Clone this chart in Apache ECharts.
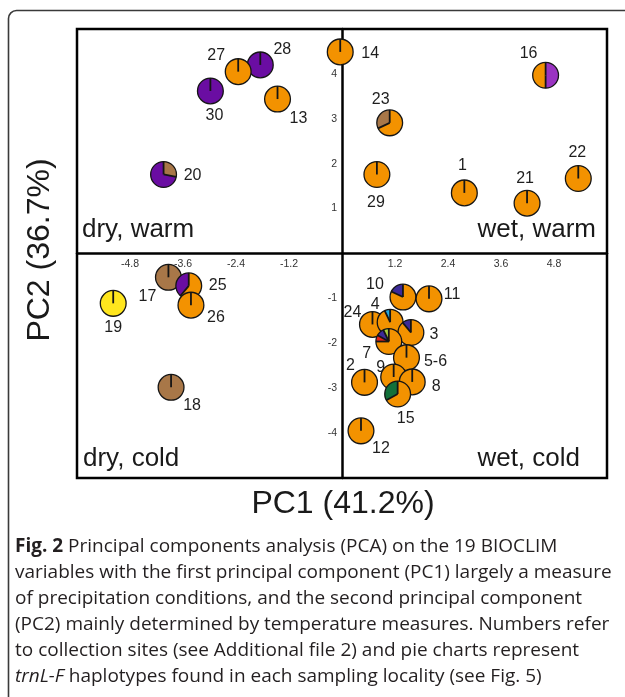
<!DOCTYPE html>
<html><head><meta charset="utf-8">
<script src="https://cdn.jsdelivr.net/npm/echarts@6/dist/echarts.min.js"></script>
<style>html,body{margin:0;padding:0;background:#fff}#c{width:625px;height:697px}</style>
</head><body><div id="c"></div>
<script>
// ---- data (draw order: later entries sit on top) ----
const siteLabels = ['30','28','27','13','14','20','16','23','29','1','21','22',
  '17','25','26','19','18','10','11','24','4','3','7','5-6','2','9','8','15','12'];
const pc1 = [-2.98,-1.85,-2.35,-1.46,-0.04,-4.04,4.61,1.08,0.79,2.77,4.19,5.35,
  -3.93,-3.47,-3.42,-5.18,-3.87,1.38,1.97,0.69,1.09,1.56,1.06,1.46,0.51,1.17,1.59,1.26,0.43];
const pc2 = [3.62,4.20,4.05,3.44,4.49,1.76,3.97,2.91,1.76,1.35,1.12,1.67,
  -0.53,-0.72,-1.15,-1.11,-2.98,-0.97,-1.01,-1.58,-1.53,-1.76,-1.96,-2.32,-2.87,-2.75,-2.86,-3.13,-3.95];
// haplotype composition per site, slices clockwise from 12 o'clock
const haplotypeMix = [
  [['purple',1]], [['purple',1]], [['orange',1]], [['orange',1]], [['orange',1]],
  [['brown',0.28],['purple',0.72]],
  [['violet',0.5],['orange',0.5]],
  [['orange',0.68],['brown',0.32]],
  [['orange',1]], [['orange',1]], [['orange',1]], [['orange',1]],
  [['brown',1]],
  [['orange',0.61],['purple',0.39]],
  [['orange',1]], [['yellow',1]], [['brown',1]],
  [['orange',0.82],['indigo',0.18]],
  [['orange',1]], [['orange',1]],
  [['orange',0.93],['cyan',0.07]],
  [['orange',0.89],['indigo',0.11]],
  [['orange',0.75],['red',0.08],['indigo',0.10],['lime',0.07]],
  [['orange',1]], [['orange',1]], [['orange',1]], [['orange',1]],
  [['orange',0.67],['green',0.33]],
  [['orange',1]]
];
const xTickLabels = ['-4.8','-3.6','-2.4','-1.2','1.2','2.4','3.6','4.8'];
const yTickLabels = ['-4','-3','-2','-1','1','2','3','4'];

// ---- styles / layout ----
const hapColors = {orange:'#F39200', purple:'#6A0DA2', brown:'#A87748', violet:'#9A33C2',
  yellow:'#FFE61E', indigo:'#3C2A98', cyan:'#22A8DE', lime:'#A8CF3D', red:'#E2231A', green:'#12703A'};
const labelOffsets = {
  '30':[4,25],'27':[-22,-16],'28':[22,-15],'13':[21,20],'14':[30,2],'20':[29,1],
  '16':[-17,-22],'23':[-9,-23],'29':[-1,28],'1':[-2,-27],'21':[-2,-25],'22':[-1,-26],
  '17':[-21,19],'25':[29,0],'26':[25,12],'19':[0,24],'18':[21,18],
  '10':[-28,-12],'11':[23,-4],'24':[-20,-12],'4':[-15,-18],'3':[23,2],'7':[-22,12],
  '5-6':[29,4],'9':[-13,-9],'8':[24,5],'2':[-14,-17],'15':[8,25],'12':[20,18]
};
const R = 12.9;
const FONT = '"Liberation Sans", Arial, sans-serif';
const GRID = {left:77, right:18, top:29, bottom:219};
const PLOT_W = 625 - GRID.left - GRID.right;
const PLOT_H = 697 - GRID.top - GRID.bottom;

const seriesData = pc1.map((x, i) => [x, pc2[i], i]);

function pieItem(params, api) {
  const i = api.value(2);
  const c = api.coord([api.value(0), api.value(1)]);
  const mix = haplotypeMix[i];
  const children = [];
  let a = -Math.PI / 2;
  const bounds = [];
  mix.forEach(([h, f]) => {
    const a2 = a + f * 2 * Math.PI;
    if (mix.length === 1) {
      children.push({type:'circle', shape:{cx:c[0], cy:c[1], r:R}, style:{fill:hapColors[h]}});
    } else {
      children.push({type:'sector', shape:{cx:c[0], cy:c[1], r0:0, r:R, startAngle:a, endAngle:a2, clockwise:true},
        style:{fill:hapColors[h], stroke:null}});
    }
    bounds.push(a);
    a = a2;
  });
  children.push({type:'circle', shape:{cx:c[0], cy:c[1], r:R}, style:{fill:null, stroke:'#151515', lineWidth:1.3}});
  bounds.forEach(b => {
    children.push({type:'line', shape:{x1:c[0], y1:c[1], x2:c[0] + R * Math.cos(b), y2:c[1] + R * Math.sin(b)},
      style:{stroke:'#151515', lineWidth:1.8}});
  });
  return {type:'group', children};
}

function labelItem(params, api) {
  const i = api.value(2);
  const c = api.coord([api.value(0), api.value(1)]);
  const name = siteLabels[i];
  const o = labelOffsets[name] || [0, 0];
  return {type:'text', x:c[0] + o[0], y:c[1] + o[1],
    style:{text:name, fill:'#1e1e1e', font:'16px ' + FONT, align:'center', verticalAlign:'middle'}};
}

const fmtX = v => { const s = v.toFixed(1); return xTickLabels.indexOf(s) >= 0 ? s : ''; };
const fmtY = v => { const s = String(Math.round(v)); return yTickLabels.indexOf(s) >= 0 ? s : ''; };

const captionLines = [
  '{b|Fig. 2} Principal components analysis (PCA) on the 19 BIOCLIM',
  'variables with the first principal component (PC1) largely a measure',
  'of precipitation conditions, and the second principal component',
  '(PC2) mainly determined by temperature measures. Numbers refer',
  'to collection sites (see Additional file 2) and pie charts represent',
  '{i|trnL-F} haplotypes found in each sampling locality (see Fig. 5)'
];
const CAP_FONT = '"Open Sans", sans-serif';
const CAP_SIZE = 19;

const graphics = [
  {type:'rect', shape:{x:8.5, y:10.5, width:800, height:900, r:8}, style:{fill:null, stroke:'#3a3a3a', lineWidth:1.6}, z:-1},
  {type:'text', x:82, y:230, style:{text:'dry, warm', font:'26px ' + FONT, fill:'#1a1a1a', align:'left', verticalAlign:'middle'}},
  {type:'text', x:596, y:230, style:{text:'wet, warm', font:'26px ' + FONT, fill:'#1a1a1a', align:'right', verticalAlign:'middle'}},
  {type:'text', x:83, y:459, style:{text:'dry, cold', font:'26px ' + FONT, fill:'#1a1a1a', align:'left', verticalAlign:'middle'}},
  {type:'text', x:580, y:459, style:{text:'wet, cold', font:'26px ' + FONT, fill:'#1a1a1a', align:'right', verticalAlign:'middle'}},
  {type:'text', x:343, y:504, style:{text:'PC1 (41.2%)', font:'32px ' + FONT, fill:'#1a1a1a', align:'center', verticalAlign:'middle'}},
  {type:'text', x:40, y:250, rotation:Math.PI / 2, style:{text:'PC2 (36.7%)', font:'32px ' + FONT, fill:'#1a1a1a', align:'center', verticalAlign:'middle'}}
];
captionLines.forEach((t, k) => {
  graphics.push({type:'text', x:15, y:547 + 26 * k, style:{text:t, font:CAP_SIZE + 'px ' + CAP_FONT, fill:'#231f20',
    align:'left', verticalAlign:'middle',
    rich:{b:{fontWeight:'bold', fontFamily:CAP_FONT, fontSize:CAP_SIZE, fill:'#231f20'},
          i:{fontStyle:'italic', fontFamily:CAP_FONT, fontSize:CAP_SIZE, fill:'#231f20'}}}});
});

const chart = echarts.init(document.getElementById('c'), null, {renderer:'canvas'});
chart.setOption({
  animation:false,
  backgroundColor:'#fff',
  grid:{left:GRID.left, right:GRID.right, top:GRID.top, bottom:GRID.bottom, show:true, borderColor:'#000', borderWidth:2.5, backgroundColor:'#fff', outerBoundsMode:'none'},
  xAxis:{type:'value', min:-6, max:6, interval:1.2, position:'bottom', offset:-PLOT_H / 2,
    axisLine:{show:true, onZero:false, lineStyle:{color:'#000', width:2.5}},
    axisTick:{show:false}, splitLine:{show:false},
    axisLabel:{formatter:fmtX, color:'#333', fontSize:10.5, fontFamily:FONT, margin:5, showMinLabel:false, showMaxLabel:false}},
  yAxis:{type:'value', min:-5, max:5, interval:1, position:'left', offset:-PLOT_W / 2,
    axisLine:{show:true, onZero:false, lineStyle:{color:'#000', width:2.5}},
    axisTick:{show:false}, splitLine:{show:false},
    axisLabel:{formatter:fmtY, color:'#333', fontSize:10.5, fontFamily:FONT, margin:5, showMinLabel:false, showMaxLabel:false}},
  series:[
    {type:'custom', renderItem:pieItem, data:seriesData, encode:{x:0, y:1}, clip:false, z:3},
    {type:'custom', renderItem:labelItem, data:seriesData, encode:{x:0, y:1}, clip:false, z:4}
  ],
  graphic:graphics
});
</script></body></html>
